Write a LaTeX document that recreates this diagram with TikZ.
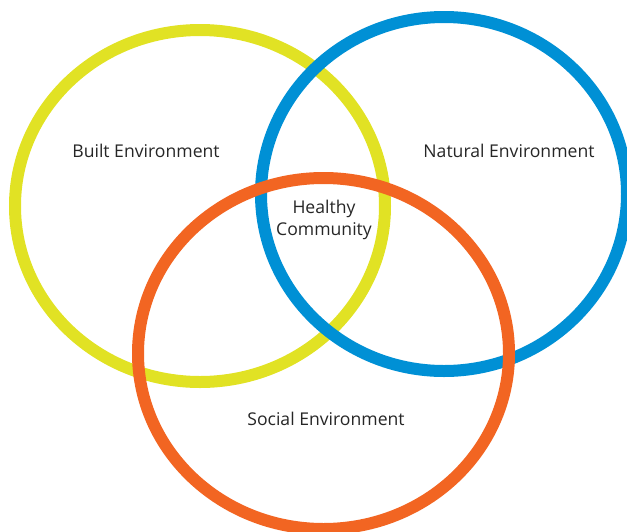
\documentclass[tikz,border=0pt]{standalone}
\usepackage{fontspec}
\setmainfont{Open Sans}
\definecolor{cyellow}{HTML}{E1E224}
\definecolor{cblue}{HTML}{0090D5}
\definecolor{corange}{HTML}{F26522}
\begin{document}
\begin{tikzpicture}[x=1pt,y=-1pt,
  ring/.style={line width=12pt},
  lbl/.style={font=\fontsize{17.6}{22}\selectfont, text=black!85, inner sep=0pt}]
\useasboundingbox (0,0) rectangle (627,531);
\begin{scope}
\clip (0,0) rectangle (627,531);
\draw[ring, cyellow] (200,206) ellipse [x radius=185, y radius=176];
\draw[ring, cblue] (444,194) ellipse [x radius=183, y radius=177];
\draw[ring, corange] (323.5,353.5) ellipse [x radius=185.5, y radius=175.5];
\end{scope}
\node[lbl] (built) at (146,151) {Built Environment};
\node[lbl] (natural) at (509,151) {Natural Environment};
\node[lbl, align=center] (healthy) at (324,220) {Healthy\\Community};
\node[lbl] (social) at (326,419) {Social Environment};
\end{tikzpicture}
\end{document}
